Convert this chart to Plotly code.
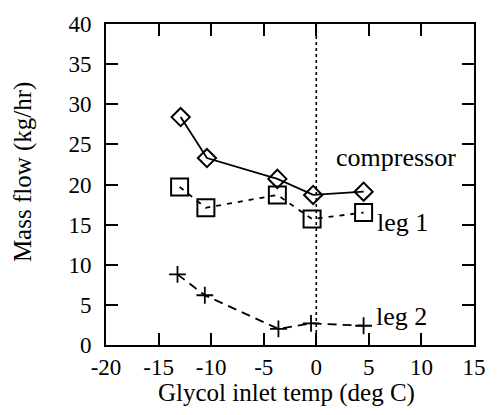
import plotly.graph_objects as go

temps_comp = [-12.9, -10.4, -3.7, -0.3, 4.5]
comp_flow = [28.4, 23.3, 20.7, 18.7, 19.1]

temps_leg1 = [-13.0, -10.5, -3.7, -0.4, 4.5]
leg1_flow = [19.7, 17.1, 18.7, 15.7, 16.5]

temps_leg2 = [-13.2, -10.6, -3.6, -0.5, 4.5]
leg2_flow = [8.8, 6.2, 2.0, 2.7, 2.4]

x_ticks = [-20, -15, -10, -5, 0, 5, 10, 15]
y_ticks = [0, 5, 10, 15, 20, 25, 30, 35, 40]

FONT = "Liberation Serif"

fig = go.Figure()
fig.add_trace(go.Scatter(x=temps_comp, y=comp_flow, mode="lines+markers",
                         line=dict(color="black", width=1.8),
                         marker=dict(symbol="diamond-open", size=14, color="black",
                                     line=dict(width=2, color="black"))))
fig.add_trace(go.Scatter(x=temps_leg1, y=leg1_flow, mode="lines+markers",
                         line=dict(color="black", width=1.8, dash="5px,6px"),
                         marker=dict(symbol="square-open", size=17, color="black",
                                     line=dict(width=2, color="black"))))
fig.add_trace(go.Scatter(x=temps_leg2, y=leg2_flow, mode="lines+markers",
                         line=dict(color="black", width=1.8, dash="9px,6px"),
                         marker=dict(symbol="cross-thin-open", size=12, color="black",
                                     line=dict(width=1.8, color="black"))))

fig.add_shape(type="line", xref="x", yref="paper", x0=0, x1=0, y0=0, y1=1,
              line=dict(color="black", width=1.6, dash="dot"))

fig.add_annotation(x=1.7, y=23.4, text="compressor", showarrow=False,
                   xanchor="left", yanchor="middle", font=dict(family=FONT, size=26, color="black"))
fig.add_annotation(x=5.6, y=15.3, text="leg 1", showarrow=False,
                   xanchor="left", yanchor="middle", font=dict(family=FONT, size=26, color="black"))
fig.add_annotation(x=5.5, y=3.5, text="leg 2", showarrow=False,
                   xanchor="left", yanchor="middle", font=dict(family=FONT, size=26, color="black"))

fig.add_annotation(xref="paper", yref="paper", x=-0.227, y=0.54, text="Mass flow (kg/hr)",
                   textangle=-90, showarrow=False, xanchor="center", yanchor="middle",
                   font=dict(family=FONT, size=25, color="black"))
fig.add_annotation(xref="paper", yref="paper", x=0.49, y=-0.148, text="Glycol inlet temp (deg C)",
                   showarrow=False, xanchor="center", yanchor="middle",
                   font=dict(family=FONT, size=25, color="black"))

axis_common = dict(showgrid=False, zeroline=False, showline=True, linecolor="black",
                   linewidth=2, mirror="ticks", ticks="inside", ticklen=12, tickwidth=2,
                   tickcolor="black", tickfont=dict(family=FONT, size=23, color="black"))
fig.update_xaxes(range=[-20, 15], tickmode="array", tickvals=x_ticks,
                 ticktext=[str(v) for v in x_ticks], ticklabelstandoff=0, **axis_common)
fig.update_yaxes(range=[0, 40], tickmode="array", tickvals=y_ticks,
                 ticktext=[str(v) for v in y_ticks], ticklabelstandoff=8, **axis_common)

fig.update_layout(width=498, height=415, margin=dict(l=106, r=13, t=22, b=70),
                  paper_bgcolor="white", plot_bgcolor="white", showlegend=False,
                  font=dict(family=FONT, color="black"))

fig.write_html("out.html")
